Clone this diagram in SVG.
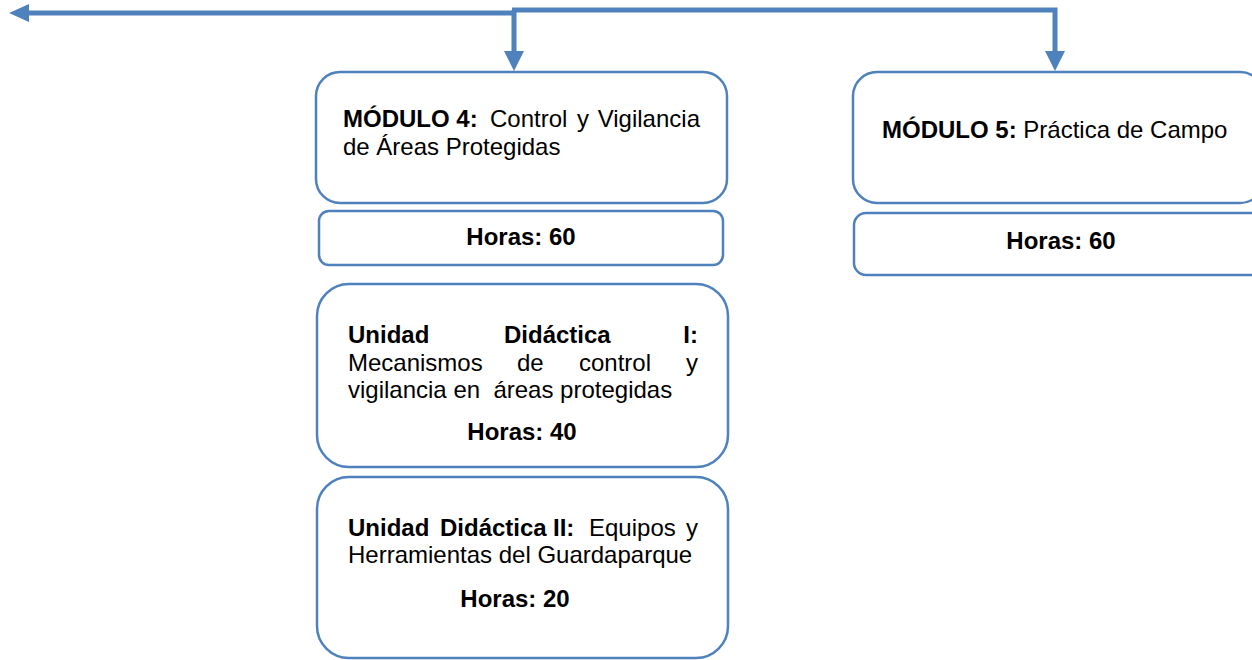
<svg xmlns="http://www.w3.org/2000/svg" width="1252" height="660" viewBox="0 0 1252 660">
<defs>
<style>
.box{fill:#fff;stroke:#4F81BD;stroke-width:2.5}
.t{font-family:"Liberation Sans",Arial,sans-serif;font-size:24px;fill:#000}
.b{font-weight:bold}
.c{text-anchor:middle}
.e{text-anchor:end}
.ln{stroke:#4F81BD;stroke-width:5;fill:none}
.ah{fill:#4F81BD}
</style>
</defs>
<rect width="1252" height="660" fill="#fff"/>
<g id="connectors">
<line class="ln" x1="26" y1="13" x2="516" y2="13"/>
<polygon class="ah" points="9,13 29,4 29,22"/>
<polyline class="ln" points="512,10 1055,10 1055,54"/>
<line class="ln" x1="514" y1="10" x2="514" y2="54"/>
<polygon class="ah" points="504,51 524,51 514,71"/>
<polygon class="ah" points="1045,51 1065,51 1055,71"/>
</g>
<g id="mod4">
<rect class="box" x="316" y="72" width="411" height="131" rx="24"/>
<text class="t" y="127"><tspan class="b" x="343">MÓDULO 4:</tspan><tspan x="490">Control</tspan><tspan x="577">y</tspan></text>
<text class="t e" x="700" y="127">Vigilancia</text>
<text class="t" x="343" y="155">de Áreas Protegidas</text>
</g>
<g id="mod4-horas">
<rect class="box" x="319" y="211" width="404" height="54" rx="10"/>
<text class="t b c" x="521" y="245">Horas: 60</text>
</g>
<g id="unidad1">
<rect class="box" x="317" y="284" width="411" height="183" rx="32"/>
<text class="t b" y="343"><tspan x="348">Unidad</tspan><tspan x="504">Didáctica</tspan></text>
<text class="t b e" x="698" y="343">I:</text>
<text class="t" y="371"><tspan x="348">Mecanismos</tspan><tspan x="517">de</tspan><tspan x="579">control</tspan></text>
<text class="t e" x="698" y="371">y</text>
<text class="t" x="348" y="398" xml:space="preserve">vigilancia en  áreas protegidas</text>
<text class="t b c" x="522" y="440">Horas: 40</text>
</g>
<g id="unidad2">
<rect class="box" x="317" y="477" width="411" height="181" rx="32"/>
<text class="t" y="536"><tspan class="b" x="348">Unidad</tspan><tspan class="b" x="440">Didáctica</tspan><tspan class="b" x="553">II:</tspan><tspan x="589">Equipos</tspan></text>
<text class="t e" x="698" y="536">y</text>
<text class="t" x="348" y="563">Herramientas del Guardaparque</text>
<text class="t b c" x="515" y="607">Horas: 20</text>
</g>
<g id="mod5">
<rect class="box" x="853" y="72" width="411" height="131" rx="24"/>
<text class="t" y="138"><tspan class="b" x="882">MÓDULO 5:</tspan> Práctica de Campo</text>
</g>
<g id="mod5-horas">
<rect class="box" x="854" y="213" width="410" height="62" rx="12"/>
<text class="t b c" x="1061" y="249">Horas: 60</text>
</g>
</svg>
